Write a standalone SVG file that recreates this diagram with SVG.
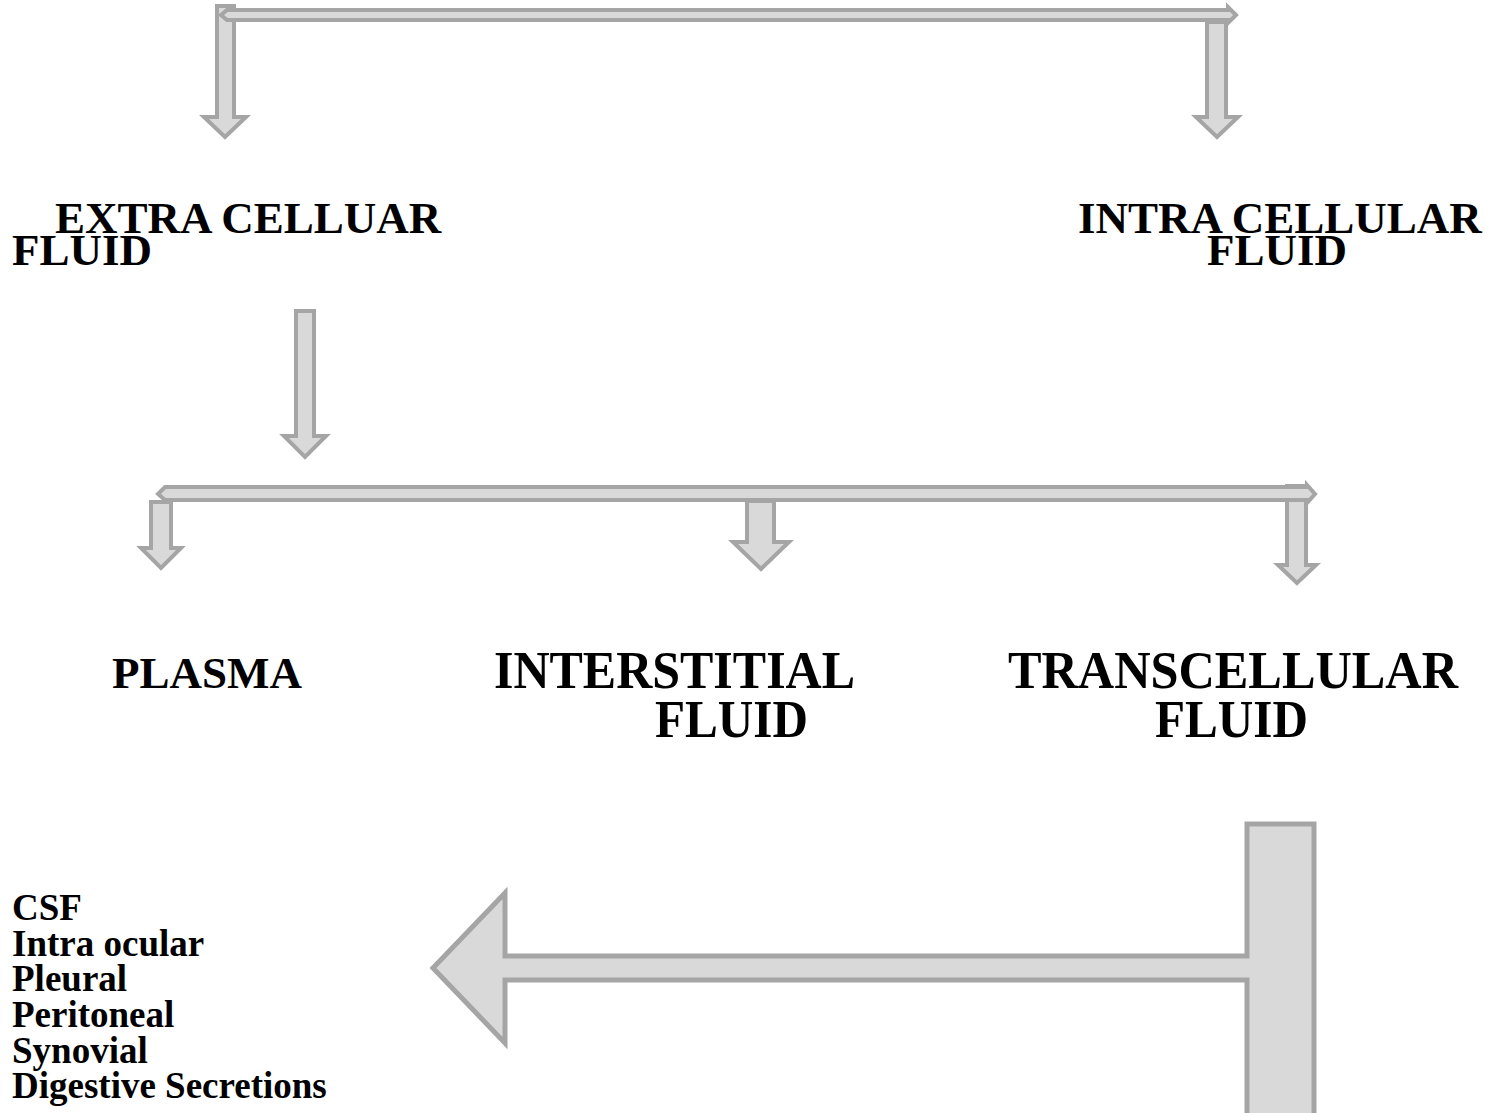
<svg xmlns="http://www.w3.org/2000/svg" width="1497" height="1113" viewBox="0 0 1497 1113">
<style>
.ar{fill:#d9d9d9;stroke:#a5a5a5;stroke-width:4;stroke-linejoin:miter}
.big{fill:#d9d9d9;stroke:#a5a5a5;stroke-width:5}
text{font-family:"Liberation Serif","Times New Roman",serif;font-weight:bold;fill:#000}
.t45{font-size:45px}
.t50{font-size:52px}
.t37{font-size:37px}
</style>
<rect width="1497" height="1113" fill="#fff"/>
<g id="connectors">
<path class="ar" d="M217,6 L234,6 L234,117 L246,117 L225,137 L204,117 L217,117 Z"/>
<path class="ar" d="M1207,22 L1226,22 L1226,117 L1238,117 L1217,137 L1196,117 L1207,117 Z"/>
<path class="ar" d="M221,15 L227,10 L1228,10 L1228,7 L1236,15 L1228,23 L1228,20 L227,20 Z"/>
<path class="ar" d="M296,311 L314,311 L314,436 L326,436 L305,457 L284,436 L296,436 Z"/>
<path class="ar" d="M151,502 L171,502 L171,548 L181,548 L161,568 L141,548 L151,548 Z"/>
<path class="ar" d="M747,501 L774,501 L774,542 L789,542 L761,569 L733,542 L747,542 Z"/>
<path class="ar" d="M1287,486 L1306,486 L1306,565 L1316,565 L1297,583 L1278,565 L1287,565 Z"/>
<path class="ar" d="M158,494 L165,487 L1307,487 L1307,485 L1315,494 L1307,503 L1307,500 L165,500 Z"/>
<path class="big" d="M1247,824 L1314,824 L1314,1120 L1247,1120 L1247,980 L505,980 L505,1043 L433,968 L505,893 L505,956 L1247,956 Z"/>
</g>
<g id="extra-cellular"><text class="t45" x="55" y="233">EXTRA CELLUAR</text><text class="t45" x="12" y="265">FLUID</text></g>
<g id="intra-cellular"><text class="t45" x="1078" y="233">INTRA CELLULAR</text><text class="t45" x="1207" y="265">FLUID</text></g>
<g id="plasma"><text class="t45" x="112" y="688" textLength="190" lengthAdjust="spacingAndGlyphs">PLASMA</text></g>
<g id="interstitial"><text class="t50" x="494" y="688" textLength="361" lengthAdjust="spacingAndGlyphs">INTERSTITIAL</text><text class="t50" x="655" y="737" textLength="153" lengthAdjust="spacingAndGlyphs">FLUID</text></g>
<g id="transcellular"><text class="t50" x="1008" y="688" textLength="450" lengthAdjust="spacingAndGlyphs">TRANSCELLULAR</text><text class="t50" x="1155" y="737" textLength="153" lengthAdjust="spacingAndGlyphs">FLUID</text></g>
<g id="list">
<text class="t37" x="12" y="920">CSF</text>
<text class="t37" x="12" y="956">Intra ocular</text>
<text class="t37" x="12" y="991">Pleural</text>
<text class="t37" x="12" y="1027">Peritoneal</text>
<text class="t37" x="12" y="1063">Synovial</text>
<text class="t37" x="12" y="1098">Digestive Secretions</text>
</g>
</svg>
